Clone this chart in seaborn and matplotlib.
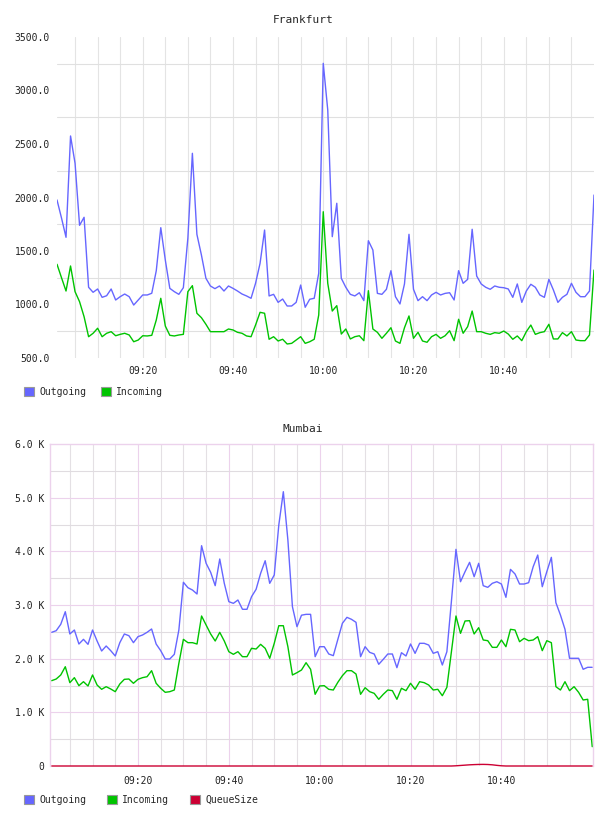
import numpy as np
import pandas as pd
import matplotlib
matplotlib.use("Agg")
import matplotlib.pyplot as plt
from matplotlib.patches import Patch
import seaborn as sns

# --- data (one sample per minute) ---
fra_out = [1977, 1808, 1628, 2575, 2320, 1740, 1815, 1161, 1114, 1145,
           1067, 1082, 1145, 1042, 1073, 1098, 1073, 995, 1042, 1089,
           1089, 1105, 1316, 1718, 1416, 1151, 1120, 1095, 1157, 1620,
           2413, 1656, 1463, 1245, 1173, 1148, 1173, 1126, 1173, 1151,
           1126, 1098, 1080, 1058, 1198, 1385, 1696, 1080, 1095, 1020,
           1051, 986, 986, 1020, 1182, 974, 1049, 1058, 1292, 3254,
           2818, 1634, 1946, 1245, 1161, 1095, 1080, 1110, 1036, 1596,
           1509, 1104, 1095, 1142, 1316, 1073, 1005, 1192, 1656, 1142,
           1036, 1073, 1036, 1089, 1114, 1089, 1104, 1110, 1042, 1316,
           1198, 1235, 1703, 1266, 1192, 1161, 1142, 1173, 1161, 1157,
           1145, 1067, 1192, 1020, 1126, 1189, 1161, 1089, 1067, 1235,
           1136, 1020, 1067, 1095, 1198, 1114, 1073, 1073, 1126, 2023]
fra_in = [1376, 1250, 1126, 1360, 1120, 1026, 886, 699, 731, 778,
          699, 731, 746, 708, 721, 731, 715, 652, 668, 708,
          706, 712, 855, 1058, 799, 712, 706, 715, 721, 1120,
          1176, 918, 877, 815, 746, 746, 746, 746, 771, 762,
          740, 731, 706, 699, 808, 927, 918, 675, 699, 659,
          675, 631, 637, 668, 699, 637, 652, 675, 902, 1867,
          1198, 939, 989, 724, 771, 678, 699, 708, 662, 1129,
          771, 740, 684, 731, 783, 659, 637, 783, 893, 684,
          740, 659, 647, 699, 721, 684, 708, 755, 662, 862,
          731, 793, 939, 746, 746, 731, 721, 737, 731, 752,
          724, 675, 706, 662, 746, 808, 721, 737, 746, 815,
          678, 678, 737, 706, 746, 668, 662, 662, 715, 1322]

mum_out = [2491, 2521, 2640, 2875, 2460, 2534, 2273, 2360, 2267, 2534,
           2329, 2143, 2236, 2149, 2050, 2298, 2460, 2428, 2298, 2410,
           2441, 2491, 2553, 2273, 2149, 1994, 1994, 2081, 2534, 3423,
           3322, 3279, 3205, 4105, 3777, 3609, 3360, 3857, 3404, 3062,
           3031, 3093, 2920, 2920, 3155, 3292, 3590, 3825, 3404, 3559,
           4490, 5111, 4211, 2968, 2596, 2810, 2826, 2826, 2037, 2223,
           2223, 2087, 2056, 2360, 2659, 2770, 2733, 2677, 2037, 2223,
           2118, 2087, 1895, 1988, 2087, 2087, 1832, 2111, 2050, 2273,
           2099, 2286, 2286, 2254, 2099, 2130, 1882, 2130, 3070, 4037,
           3434, 3621, 3795, 3527, 3777, 3360, 3329, 3404, 3434, 3391,
           3143, 3664, 3578, 3391, 3391, 3416, 3714, 3931, 3341, 3621,
           3888, 3043, 2813, 2547, 2007, 2007, 2007, 1802, 1839, 1839]
mum_in = [1590, 1621, 1696, 1850, 1553, 1646, 1497, 1571, 1491, 1696,
          1509, 1429, 1478, 1435, 1385, 1528, 1615, 1621, 1541, 1615,
          1646, 1664, 1776, 1541, 1448, 1373, 1385, 1416, 1913, 2360,
          2298, 2298, 2273, 2795, 2627, 2460, 2329, 2491, 2329, 2130,
          2081, 2130, 2037, 2037, 2193, 2180, 2267, 2193, 2007, 2286,
          2614, 2614, 2223, 1696, 1739, 1789, 1925, 1802, 1336, 1491,
          1497, 1429, 1416, 1560, 1683, 1776, 1776, 1714, 1336, 1459,
          1385, 1354, 1243, 1336, 1416, 1404, 1243, 1448, 1404, 1541,
          1429, 1571, 1553, 1509, 1416, 1429, 1310, 1466, 2130, 2795,
          2472, 2702, 2708, 2460, 2577, 2348, 2335, 2211, 2211, 2348,
          2223, 2547, 2534, 2316, 2379, 2335, 2348, 2410, 2149, 2335,
          2298, 1478, 1416, 1571, 1404, 1478, 1373, 1230, 1243, 360]
mum_queue = [0] * 89 + [4, 10, 16, 22, 26, 29, 30, 28, 22, 12, 4] + [0] * 20

times = pd.date_range("2024-01-01 09:01", periods=120, freq="1min")
label_times = pd.to_datetime(["2024-01-01 09:20", "2024-01-01 09:40", "2024-01-01 10:00",
                              "2024-01-01 10:20", "2024-01-01 10:40"])
label_text = ["09:20", "09:40", "10:00", "10:20", "10:40"]
grid_times = pd.date_range("2024-01-01 09:05", "2024-01-01 10:55", freq="5min")

fra_yticks = [500, 1000, 1500, 2000, 2500, 3000, 3500]
fra_ygrid = [750, 1250, 1750, 2250, 2750, 3250]
mum_yticks = [0, 1000, 2000, 3000, 4000, 5000, 6000]
mum_yminor = [500, 1500, 2500, 3500, 4500, 5500]

colors = {"Outgoing": "#6666ff", "Incoming": "#00c400", "QueueSize": "#cc0033"}
pink = "#ecd2ec"

sns.set_style("white")
plt.rcParams["font.family"] = ["DejaVu Sans Mono"]

fig = plt.figure(figsize=(6.08, 8.16), dpi=100)
ax1 = fig.add_axes([57 / 608, 1 - 358 / 816, 537 / 608, 321 / 816])
ax2 = fig.add_axes([50 / 608, 1 - 766 / 816, 543 / 608, 322 / 816])

# ---------------- Frankfurt ----------------
fra = pd.DataFrame({"time": times, "Outgoing": fra_out, "Incoming": fra_in})
fra = fra.melt("time", var_name="series", value_name="value")
sns.lineplot(data=fra, x="time", y="value", hue="series", palette=colors,
             linewidth=1.0, legend=False, ax=ax1)
ax1.set_xlim(times[0], times[-1])
ax1.set_ylim(500, 3500)
for t in grid_times:
    ax1.axvline(t, color="#e4e4e4", lw=0.8, zorder=0)
for v in fra_ygrid:
    ax1.axhline(v, color="#e0e0e0", lw=0.8, zorder=0)
ax1.set_yticks(fra_yticks)
ax1.set_yticklabels([f"{v:.1f}" for v in fra_yticks])
ax1.set_xticks(label_times)
ax1.set_xticklabels(label_text)
ax1.tick_params(axis="y", length=0, pad=5, labelsize=7, colors="#222222")
ax1.tick_params(axis="x", length=0, pad=6, labelsize=7, colors="#222222")
ax1.set_xlabel("")
ax1.set_ylabel("")
for s in ax1.spines.values():
    s.set_visible(False)
fig.text(303 / 608, 1 - 20 / 816, "Frankfurt", ha="center", va="center", fontsize=8)

fig.legend(handles=[Patch(facecolor=colors[k], edgecolor="#999999", linewidth=0.8, label=k)
                    for k in ["Outgoing", "Incoming"]],
           loc="center left", bbox_to_anchor=(24 / 608, 1 - 392 / 816), ncol=2,
           frameon=False, fontsize=7, handlelength=1.05, handleheight=1.05,
           handletextpad=0.5, columnspacing=1.55, borderpad=0, borderaxespad=0)

# ---------------- Mumbai ----------------
mum = pd.DataFrame({"time": times, "Outgoing": mum_out, "Incoming": mum_in, "QueueSize": mum_queue})
mum = mum.melt("time", var_name="series", value_name="value")
sns.lineplot(data=mum, x="time", y="value", hue="series", palette=colors,
             linewidth=1.0, legend=False, ax=ax2)
for ln in ax2.lines:
    ln.set_clip_on(False)
ax2.set_xlim(times[0] - pd.Timedelta(seconds=22), times[-1] + pd.Timedelta(seconds=10))
ax2.set_ylim(0, 6000)
for t in grid_times:
    major = t in label_times
    ax2.axvline(t, color=pink if major else "#e4e0e4", lw=0.8, zorder=0)
for v in mum_yminor:
    ax2.axhline(v, color="#e0dce0", lw=0.8, zorder=0)
for v in mum_yticks[1:-1]:
    ax2.axhline(v, color=pink, lw=0.8, zorder=0)
ax2.set_yticks(mum_yticks)
ax2.set_yticklabels(["0" if v == 0 else f"{v / 1000:.1f} K" for v in mum_yticks])
ax2.set_xticks(label_times)
ax2.set_xticklabels(label_text)
ax2.tick_params(axis="y", length=0, pad=4, labelsize=7, colors="#222222")
ax2.tick_params(axis="x", length=0, pad=7, labelsize=7, colors="#222222")
ax2.set_xlabel("")
ax2.set_ylabel("")
for name, s in ax2.spines.items():
    s.set_color(pink)
    s.set_linewidth(1.0)
ax2.spines["bottom"].set_visible(False)
fig.text(303 / 608, 1 - 429 / 816, "Mumbai", ha="center", va="center", fontsize=8)

fig.legend(handles=[Patch(facecolor=colors[k], edgecolor="#999999", linewidth=0.8, label=k)
                    for k in ["Outgoing", "Incoming", "QueueSize"]],
           loc="center left", bbox_to_anchor=(24 / 608, 1 - 800 / 816), ncol=3,
           frameon=False, fontsize=7, handlelength=1.05, handleheight=1.05,
           handletextpad=0.5, columnspacing=2.15, borderpad=0, borderaxespad=0)

fig.savefig("out.png", dpi=100)
